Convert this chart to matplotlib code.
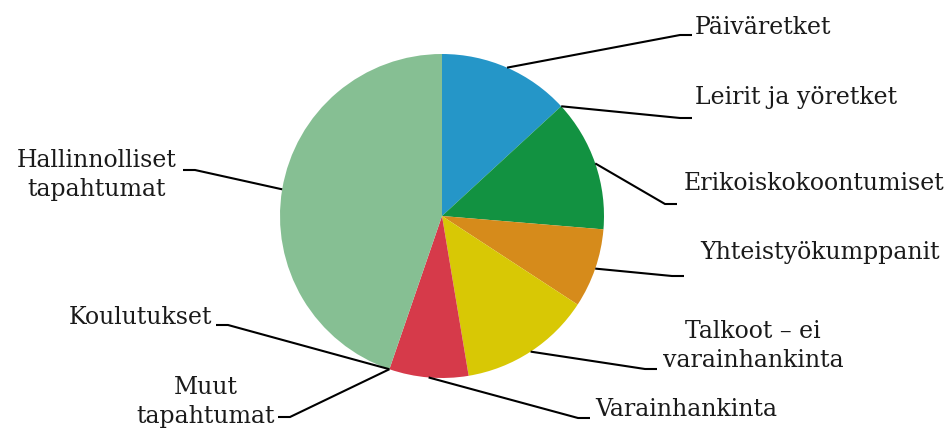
import matplotlib.pyplot as plt
import numpy as np

labels = ['Päiväretket', 'Leirit ja yöretket', 'Erikoiskokoontumiset',
          'Yhteistyökumppanit', 'Talkoot – ei\nvarainhankinta', 'Varainhankinta',
          'Koulutukset', 'Muut\ntapahtumat', 'Hallinnolliset\ntapahtumat']
values = [5, 0, 5, 3, 5, 3, 0, 0, 17]
colors = ['#2596c8', '#7fb0d6', '#129241', '#d68b1b', '#d8c805', '#d63a4a',
          '#9a9a9a', '#5a5a5a', '#86bf93']

# label layout in pixel coords (y measured from top): elbow x, elbow y, text x, text y, align
layout = [
    (680, 35, 695, 27, 'left'),
    (680, 118, 695, 97, 'left'),
    (665, 204, 684, 184, 'left'),
    (672, 276, 700, 253, 'left'),
    (645, 369, 753, 346, 'center'),
    (578, 418, 595, 410, 'left'),
    (228, 325, 212, 317, 'right'),
    (290, 417, 206, 402, 'center'),
    (195, 170, 97, 175, 'center'),
]

W, H = 953, 428
fig = plt.figure(figsize=(W / 100, H / 100), dpi=100)
ax = fig.add_axes([0, 0, 1, 1])

cx, cy, r = 442, H - 216, 162
wedges, _ = ax.pie(values, colors=colors, startangle=90, counterclock=False,
                   center=(cx, cy), radius=r, frame=True,
                   wedgeprops=dict(linewidth=0))
ax.set_xlim(0, W)
ax.set_ylim(0, H)
ax.set_aspect('equal')
ax.axis('off')

for w, lab, (ex, ey, tx, ty, ha) in zip(wedges, labels, layout):
    mid = np.deg2rad((w.theta1 + w.theta2) / 2)
    px, py = cx + r * np.cos(mid), cy + r * np.sin(mid)
    ey = H - ey
    hx = ex + 12 if ex > cx else ex - 12
    ax.plot([px, ex, hx], [py, ey, ey], color='black', lw=1.5,
            solid_capstyle='butt', solid_joinstyle='miter')
    ax.text(tx, H - ty, lab, ha=ha, va='center', multialignment='center',
            fontsize=17, family='DejaVu Serif', color='#1a1a1a',
            linespacing=1.3)

fig.savefig('out.png', dpi=100)
